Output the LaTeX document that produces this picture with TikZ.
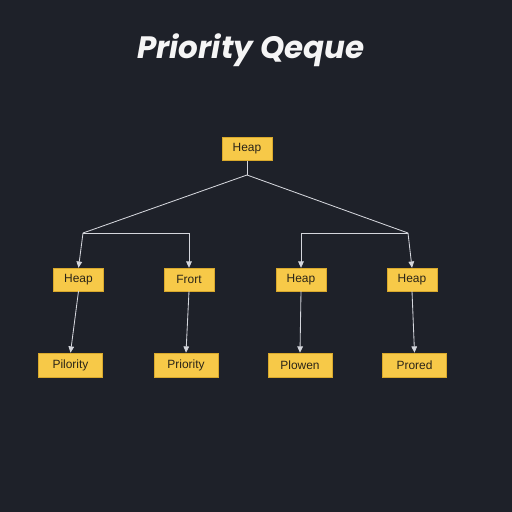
\documentclass[tikz,border=0pt]{standalone}
\usepackage{fontspec}
\setmainfont{Liberation Sans}
\newfontfamily\titlefont{Poppins}
\usetikzlibrary{positioning,calc,arrows.meta}

\definecolor{bgdark}{HTML}{1E2129}
\definecolor{boxgold}{HTML}{F7C948}
\definecolor{boxedge}{HTML}{D9A92C}
\definecolor{linegrey}{HTML}{D4D6DC}
\definecolor{textdark}{HTML}{2A2418}

\tikzset{
	heapbox/.style={draw=boxedge, fill=boxgold, line width=0.4pt, text=textdark,
		font=\fontsize{8.5}{10}\selectfont, inner sep=0pt, minimum width=1.25cm, minimum height=0.57cm},
	leafbox/.style={heapbox, minimum width=1.6cm, minimum height=0.6cm},
	link/.style={draw=linegrey, line width=0.6pt},
	arrowlink/.style={link, -{Triangle[length=4.5pt,width=4pt]}}
}

\begin{document}
\begin{tikzpicture}[x=0.025cm, y=-0.025cm]
			\fill[bgdark] (0,0) rectangle (512,512);
			\useasboundingbox (0,0) rectangle (512,512);
			%
			\node[text=white!96!black, font=\titlefont\fontsize{22}{26}\selectfont\bfseries\itshape] (title) at (251,50) {Priority Qeque};
			%
			\node[heapbox] (root) at (247,149) {Heap};
			\node[heapbox] (h1) at (78.5,279.5) {Heap};
			\node[heapbox] (h2) at (189,279.5) {Frort};
			\node[heapbox] (h3) at (301,279.5) {Heap};
			\node[heapbox] (h4) at (412,279.5) {Heap};
			%
			\node[leafbox] (l1) at (70.5,365) {Pilority};
			\node[leafbox] (l2) at (186,365) {Priority};
			\node[leafbox] (l3) at (300,365) {Plowen};
			\node[leafbox] (l4) at (414.5,365) {Prored};
			%
			\coordinate (jc) at (247,175);
			\coordinate (jl) at (83,233);
			\coordinate (jr) at (408,233);
			%
			\draw[link] (root.south) -- (jc);
			\draw[link] (jc) -- (jl);
			\draw[link] (jc) -- (jr);
			\draw[arrowlink] (jl) -- (h1.north);
			\draw[arrowlink] (jl) -| (h2.north);
			\draw[arrowlink] (jr) -| (h3.north);
			\draw[arrowlink] (jr) -- (h4.north);
			%
			\draw[arrowlink] (h1.south) -- (l1.north);
			\draw[arrowlink] (h2.south) -- (l2.north);
			\draw[arrowlink] (h3.south) -- (l3.north);
			\draw[arrowlink] (h4.south) -- (l4.north);
		\end{tikzpicture}
\end{document}
